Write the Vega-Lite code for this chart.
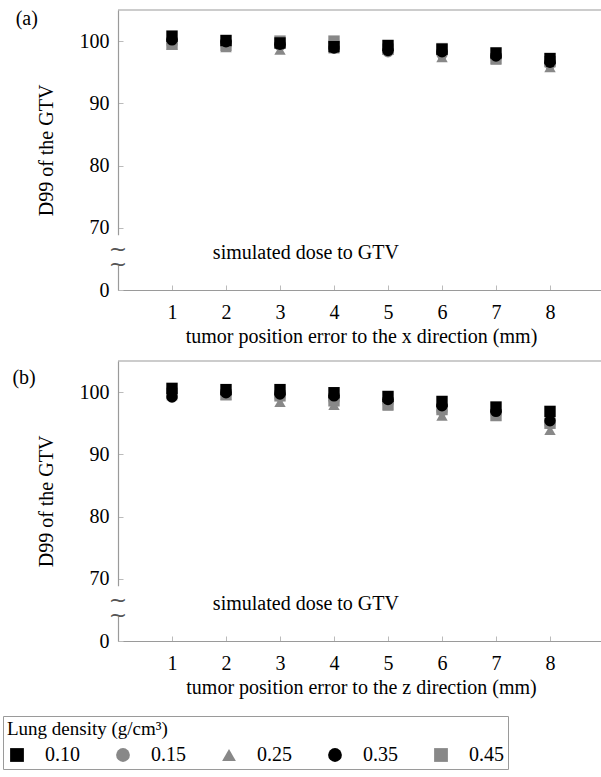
{
  "$schema": "https://vega.github.io/schema/vega-lite/v6.json",
  "background": "white",
  "padding": {"left": 2, "top": 8, "right": 0, "bottom": 0},
  "config": {
    "font": "Liberation Serif",
    "view": {"stroke": null},
    "axis": {"domainColor": "#9a9a9a", "domainWidth": 1.2, "tickColor": "#bbbbbb", "grid": false, "labelFont": "Liberation Serif", "titleFont": "Liberation Serif", "labelFontSize": 20, "titleFontSize": 20, "titleFontWeight": "normal", "labelColor": "#000", "titleColor": "#000"},
    "legend": {"orient": "none", "legendX": -115, "legendY": 706, "direction": "horizontal", "columns": 5, "strokeColor": "#9a9a9a", "padding": 4, "labelFont": "Liberation Serif", "titleFont": "Liberation Serif", "labelFontSize": 20, "titleFontSize": 19, "titleFontWeight": "normal", "titleColor": "#000", "labelColor": "#000", "symbolSize": 190, "symbolStrokeWidth": 0, "labelOffset": 18, "columnPadding": 33, "titlePadding": 6}
  },
  "datasets": {
    "pts": [
      {"panel": "a", "x": 1, "d": "0.45", "v": 99.5}, {"panel": "a", "x": 1, "d": "0.25", "v": 99.4}, {"panel": "a", "x": 1, "d": "0.15", "v": 99.6}, {"panel": "a", "x": 1, "d": "0.35", "v": 100.2}, {"panel": "a", "x": 1, "d": "0.10", "v": 100.8},
      {"panel": "a", "x": 2, "d": "0.45", "v": 99.3}, {"panel": "a", "x": 2, "d": "0.25", "v": 99.0}, {"panel": "a", "x": 2, "d": "0.15", "v": 99.4}, {"panel": "a", "x": 2, "d": "0.35", "v": 99.9}, {"panel": "a", "x": 2, "d": "0.10", "v": 100.1},
      {"panel": "a", "x": 3, "d": "0.45", "v": 100.0}, {"panel": "a", "x": 3, "d": "0.25", "v": 98.6}, {"panel": "a", "x": 3, "d": "0.15", "v": 99.3}, {"panel": "a", "x": 3, "d": "0.35", "v": 99.5}, {"panel": "a", "x": 3, "d": "0.10", "v": 99.7},
      {"panel": "a", "x": 4, "d": "0.45", "v": 100.0}, {"panel": "a", "x": 4, "d": "0.25", "v": 98.8}, {"panel": "a", "x": 4, "d": "0.15", "v": 99.8}, {"panel": "a", "x": 4, "d": "0.10", "v": 99.1}, {"panel": "a", "x": 4, "d": "0.35", "v": 98.9},
      {"panel": "a", "x": 5, "d": "0.45", "v": 98.7}, {"panel": "a", "x": 5, "d": "0.25", "v": 98.6}, {"panel": "a", "x": 5, "d": "0.15", "v": 98.3}, {"panel": "a", "x": 5, "d": "0.35", "v": 98.5}, {"panel": "a", "x": 5, "d": "0.10", "v": 99.3},
      {"panel": "a", "x": 6, "d": "0.45", "v": 98.8}, {"panel": "a", "x": 6, "d": "0.25", "v": 97.4}, {"panel": "a", "x": 6, "d": "0.15", "v": 97.9}, {"panel": "a", "x": 6, "d": "0.35", "v": 98.3}, {"panel": "a", "x": 6, "d": "0.10", "v": 98.7},
      {"panel": "a", "x": 7, "d": "0.45", "v": 97.2}, {"panel": "a", "x": 7, "d": "0.25", "v": 97.0}, {"panel": "a", "x": 7, "d": "0.15", "v": 97.3}, {"panel": "a", "x": 7, "d": "0.35", "v": 97.6}, {"panel": "a", "x": 7, "d": "0.10", "v": 98.1},
      {"panel": "a", "x": 8, "d": "0.45", "v": 96.7}, {"panel": "a", "x": 8, "d": "0.25", "v": 95.8}, {"panel": "a", "x": 8, "d": "0.15", "v": 96.3}, {"panel": "a", "x": 8, "d": "0.35", "v": 96.6}, {"panel": "a", "x": 8, "d": "0.10", "v": 97.2},
      {"panel": "b", "x": 1, "d": "0.45", "v": 99.8}, {"panel": "b", "x": 1, "d": "0.25", "v": 99.5}, {"panel": "b", "x": 1, "d": "0.15", "v": 99.6}, {"panel": "b", "x": 1, "d": "0.35", "v": 99.2}, {"panel": "b", "x": 1, "d": "0.10", "v": 100.6},
      {"panel": "b", "x": 2, "d": "0.45", "v": 99.6}, {"panel": "b", "x": 2, "d": "0.25", "v": 99.5}, {"panel": "b", "x": 2, "d": "0.15", "v": 99.7}, {"panel": "b", "x": 2, "d": "0.35", "v": 99.9}, {"panel": "b", "x": 2, "d": "0.10", "v": 100.4},
      {"panel": "b", "x": 3, "d": "0.45", "v": 99.4}, {"panel": "b", "x": 3, "d": "0.25", "v": 98.4}, {"panel": "b", "x": 3, "d": "0.15", "v": 99.3}, {"panel": "b", "x": 3, "d": "0.35", "v": 99.7}, {"panel": "b", "x": 3, "d": "0.10", "v": 100.4},
      {"panel": "b", "x": 4, "d": "0.45", "v": 98.6}, {"panel": "b", "x": 4, "d": "0.25", "v": 97.9}, {"panel": "b", "x": 4, "d": "0.15", "v": 98.7}, {"panel": "b", "x": 4, "d": "0.35", "v": 99.4}, {"panel": "b", "x": 4, "d": "0.10", "v": 99.9},
      {"panel": "b", "x": 5, "d": "0.45", "v": 98.0}, {"panel": "b", "x": 5, "d": "0.25", "v": 97.8}, {"panel": "b", "x": 5, "d": "0.15", "v": 98.2}, {"panel": "b", "x": 5, "d": "0.35", "v": 98.8}, {"panel": "b", "x": 5, "d": "0.10", "v": 99.3},
      {"panel": "b", "x": 6, "d": "0.45", "v": 97.2}, {"panel": "b", "x": 6, "d": "0.25", "v": 96.2}, {"panel": "b", "x": 6, "d": "0.15", "v": 97.0}, {"panel": "b", "x": 6, "d": "0.35", "v": 97.8}, {"panel": "b", "x": 6, "d": "0.10", "v": 98.5},
      {"panel": "b", "x": 7, "d": "0.45", "v": 96.3}, {"panel": "b", "x": 7, "d": "0.25", "v": 96.1}, {"panel": "b", "x": 7, "d": "0.15", "v": 96.5}, {"panel": "b", "x": 7, "d": "0.35", "v": 96.9}, {"panel": "b", "x": 7, "d": "0.10", "v": 97.6},
      {"panel": "b", "x": 8, "d": "0.45", "v": 95.0}, {"panel": "b", "x": 8, "d": "0.25", "v": 93.9}, {"panel": "b", "x": 8, "d": "0.15", "v": 94.9}, {"panel": "b", "x": 8, "d": "0.35", "v": 95.4}, {"panel": "b", "x": 8, "d": "0.10", "v": 96.9}
    ],
    "notes": [
      {"panel": "a", "x": -1.69, "y": 103.6, "t": "(a)"},
      {"panel": "a", "x": 3.48, "y": 66, "t": "simulated dose to GTV"},
      {"panel": "b", "x": -1.74, "y": 102.3, "t": "(b)"},
      {"panel": "b", "x": 3.48, "y": 66, "t": "simulated dose to GTV"}
    ],
    "brk": [
      {"x": -0.2, "x2": 0.2, "y": 63.9, "y2": 68.8}
    ],
    "tilde": [
      {"x": 0, "y": 66.6, "t": "~"},
      {"x": 0, "y": 64.2, "t": "~"}
    ],
    "topline": [
      {"y": 105}
    ]
  },
  "vconcat": [
    {
      "width": 486, "height": 280,
      "layer": [
        {
          "data": {"name": "topline"},
          "mark": {"type": "rule", "color": "#9a9a9a", "strokeWidth": 1.2},
          "encoding": {
            "y": {"field": "y", "type": "quantitative", "scale": {"domain": [60, 105]}}
          }
        },
        {
          "data": {"name": "pts"},
          "transform": [{"filter": "datum.panel == 'a'"}],
          "mark": {"type": "point", "filled": true, "size": 130, "opacity": 1},
          "encoding": {
            "x": {"field": "x", "type": "quantitative", "scale": {"domain": [0, 9]},
              "axis": {"values": [1, 2, 3, 4, 5, 6, 7, 8], "format": "d", "title": "tumor position error to the x direction (mm)", "tickSize": -5, "labelPadding": 17, "titlePadding": 4}},
            "y": {"field": "v", "type": "quantitative", "scale": {"domain": [60, 105]},
              "axis": {"values": [60, 70, 80, 90, 100], "title": "D99 of the GTV", "labelExpr": "datum.value == 60 ? '0' : datum.label", "tickSize": -5, "labelPadding": 14, "titlePadding": 23}},
            "shape": {"field": "d", "type": "nominal", "scale": {"domain": ["0.10", "0.15", "0.25", "0.35", "0.45"], "range": ["square", "circle", "triangle-up", "circle", "square"]}, "title": "Lung density (g/cm³)"},
            "color": {"field": "d", "type": "nominal", "scale": {"domain": ["0.10", "0.15", "0.25", "0.35", "0.45"], "range": ["#000000", "#888888", "#888888", "#000000", "#888888"]}, "title": "Lung density (g/cm³)"}
          }
        },
        {
          "data": {"name": "brk"},
          "mark": {"type": "rect", "color": "white"},
          "encoding": {
            "x": {"field": "x", "type": "quantitative"},
            "x2": {"field": "x2"},
            "y": {"field": "y", "type": "quantitative"},
            "y2": {"field": "y2"}
          }
        },
        {
          "data": {"name": "tilde"},
          "mark": {"type": "text", "fontSize": 22, "color": "#555", "baseline": "middle", "font": "DejaVu Sans"},
          "encoding": {
            "x": {"field": "x", "type": "quantitative"},
            "y": {"field": "y", "type": "quantitative"},
            "text": {"field": "t"}
          }
        },
        {
          "data": {"name": "notes"},
          "transform": [{"filter": "datum.panel == 'a'"}],
          "mark": {"type": "text", "fontSize": 20, "baseline": "middle", "color": "#000"},
          "encoding": {
            "x": {"field": "x", "type": "quantitative"},
            "y": {"field": "y", "type": "quantitative"},
            "text": {"field": "t"}
          }
        }
      ]
    },
    {
      "width": 486, "height": 280,
      "layer": [
        {
          "data": {"name": "topline"},
          "mark": {"type": "rule", "color": "#9a9a9a", "strokeWidth": 1.2},
          "encoding": {
            "y": {"field": "y", "type": "quantitative", "scale": {"domain": [60, 105]}}
          }
        },
        {
          "data": {"name": "pts"},
          "transform": [{"filter": "datum.panel == 'b'"}],
          "mark": {"type": "point", "filled": true, "size": 130, "opacity": 1},
          "encoding": {
            "x": {"field": "x", "type": "quantitative", "scale": {"domain": [0, 9]},
              "axis": {"values": [1, 2, 3, 4, 5, 6, 7, 8], "format": "d", "title": "tumor position error to the z direction (mm)", "tickSize": -5, "labelPadding": 17, "titlePadding": 4}},
            "y": {"field": "v", "type": "quantitative", "scale": {"domain": [60, 105]},
              "axis": {"values": [60, 70, 80, 90, 100], "title": "D99 of the GTV", "labelExpr": "datum.value == 60 ? '0' : datum.label", "tickSize": -5, "labelPadding": 14, "titlePadding": 23}},
            "shape": {"field": "d", "type": "nominal", "scale": {"domain": ["0.10", "0.15", "0.25", "0.35", "0.45"], "range": ["square", "circle", "triangle-up", "circle", "square"]}, "title": "Lung density (g/cm³)"},
            "color": {"field": "d", "type": "nominal", "scale": {"domain": ["0.10", "0.15", "0.25", "0.35", "0.45"], "range": ["#000000", "#888888", "#888888", "#000000", "#888888"]}, "title": "Lung density (g/cm³)"}
          }
        },
        {
          "data": {"name": "brk"},
          "mark": {"type": "rect", "color": "white"},
          "encoding": {
            "x": {"field": "x", "type": "quantitative"},
            "x2": {"field": "x2"},
            "y": {"field": "y", "type": "quantitative"},
            "y2": {"field": "y2"}
          }
        },
        {
          "data": {"name": "tilde"},
          "mark": {"type": "text", "fontSize": 22, "color": "#555", "baseline": "middle", "font": "DejaVu Sans"},
          "encoding": {
            "x": {"field": "x", "type": "quantitative"},
            "y": {"field": "y", "type": "quantitative"},
            "text": {"field": "t"}
          }
        },
        {
          "data": {"name": "notes"},
          "transform": [{"filter": "datum.panel == 'b'"}],
          "mark": {"type": "text", "fontSize": 20, "baseline": "middle", "color": "#000"},
          "encoding": {
            "x": {"field": "x", "type": "quantitative"},
            "y": {"field": "y", "type": "quantitative"},
            "text": {"field": "t"}
          }
        }
      ]
    }
  ],
  "spacing": 14,
  "resolve": {"scale": {"color": "shared", "shape": "shared"}}
}
